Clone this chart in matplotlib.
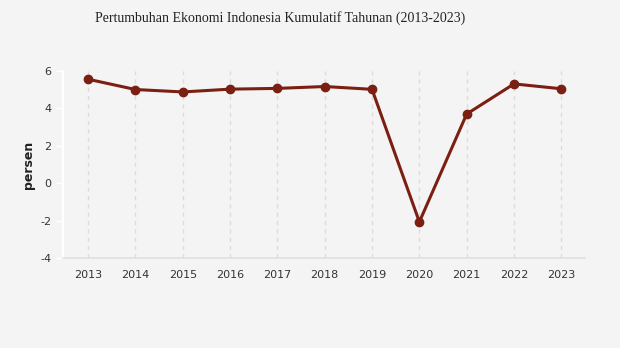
import matplotlib
matplotlib.use("Agg")
import matplotlib.pyplot as plt

plt.rcParams["axes.unicode_minus"] = False

years = [2013, 2014, 2015, 2016, 2017, 2018, 2019, 2020, 2021, 2022, 2023]
growth = [5.56, 5.01, 4.88, 5.03, 5.07, 5.17, 5.02, -2.07, 3.70, 5.31, 5.05]
yticks = [-4, -2, 0, 2, 4, 6]

bg = "#f4f4f4"
fig = plt.figure(figsize=(6.2, 3.48), dpi=100, facecolor=bg)
ax = fig.add_axes([63/620, 1-258/348, (585-63)/620, (258-71)/348], facecolor=bg)

ax.plot(years, growth, color="#7b1f12", linewidth=2.2, marker="o", markersize=6, zorder=3)

ax.set_xlim(2012.47, 2023.5)
ax.set_ylim(-4, 6)
ax.set_xticks(years)
ax.set_yticks(yticks)
ax.set_xticklabels([str(y) for y in years])
ax.grid(axis="x", color="#dcdcdc", linestyle=(0, (3, 3)), linewidth=1)
ax.grid(axis="y", visible=False)

for s in ["top", "right"]:
    ax.spines[s].set_visible(False)
ax.spines["left"].set_color("white")
ax.spines["left"].set_linewidth(1.5)
ax.spines["bottom"].set_color("#e0e0e0")
ax.spines["bottom"].set_linewidth(1.2)

ax.tick_params(axis="y", colors="white", labelcolor="#333333", length=5, width=1, labelsize=8)
ax.tick_params(axis="x", length=0, labelcolor="#333333", labelsize=8, pad=9)

ax.set_ylabel("persen", fontsize=9, fontweight="bold", color="#222222", labelpad=4)

fig.text(280/620, 1-18/348, "Pertumbuhan Ekonomi Indonesia Kumulatif Tahunan (2013-2023)",
         ha="center", va="center", fontsize=10, family="Liberation Serif", color="#222222")

fig.savefig("out.png", dpi=100, facecolor=bg)
